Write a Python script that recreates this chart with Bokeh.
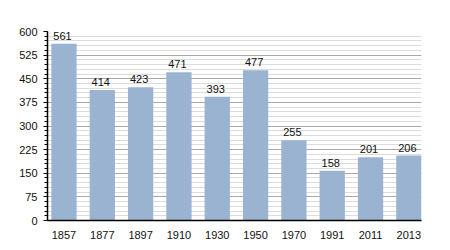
from bokeh.plotting import figure
from bokeh.models import Range1d, SingleIntervalTicker, FixedTicker, ColumnDataSource, LabelSet
from bokeh.core.properties import value
from bokeh.embed import file_html
from bokeh.resources import INLINE

years = ["1857", "1877", "1897", "1910", "1930", "1950", "1970", "1991", "2011", "2013"]
population = [561, 414, 423, 471, 393, 477, 255, 158, 201, 206]
y_ticks = [0, 75, 150, 225, 300, 375, 450, 525, 600]

xs = list(range(len(years)))
src = ColumnDataSource(dict(x=xs, top=population, label=[str(v) for v in population]))

p = figure(width=450, height=250, output_backend="svg", toolbar_location=None,
           x_range=Range1d(-0.43, 9.33), y_range=Range1d(0, 600),
           min_border_left=47, min_border_right=29, min_border_top=31, min_border_bottom=30)
p.outline_line_color = None
p.background_fill_color = "white"
p.border_fill_color = "white"

p.vbar(x="x", top="top", width=0.66, bottom=0, source=src, fill_color="#9ab3d1", line_color=None)

labels = LabelSet(x="x", y="top", text="label", source=src, text_align="center",
                  text_baseline="bottom", y_offset=4, x_offset=-1.5,
                  text_font=value("Liberation Sans"), text_font_size=value("11px"),
                  text_color="#111111")
p.add_layout(labels)

ticker = SingleIntervalTicker(interval=75, num_minor_ticks=5)
p.yaxis.ticker = ticker
p.ygrid.ticker = ticker
p.ygrid.grid_line_color = "#a8a8a8"
p.ygrid.grid_line_width = 1
p.ygrid.minor_grid_line_color = "#dcdcdc"
p.xgrid.grid_line_color = None

p.xaxis.ticker = FixedTicker(ticks=xs)
p.xaxis.major_label_overrides = {i: y for i, y in enumerate(years)}
p.xaxis.major_tick_line_color = None
p.xaxis.minor_tick_line_color = None
p.xaxis.axis_line_color = "black"
p.xaxis.axis_line_width = 1.5
p.xaxis.major_label_standoff = 4

p.yaxis.axis_line_color = "black"
p.yaxis.axis_line_width = 1.5
p.yaxis.major_tick_out = 4
p.yaxis.major_tick_in = 0
p.yaxis.minor_tick_out = 3
p.yaxis.minor_tick_in = 0
p.yaxis.major_tick_line_color = "black"
p.yaxis.minor_tick_line_color = "black"
p.yaxis.major_label_standoff = 6

for ax in (p.xaxis, p.yaxis):
    ax.major_label_text_font = "Liberation Sans"
    ax.major_label_text_font_size = "11px"
    ax.major_label_text_color = "#111111"

open("out.html", "w").write(file_html(p, INLINE))
